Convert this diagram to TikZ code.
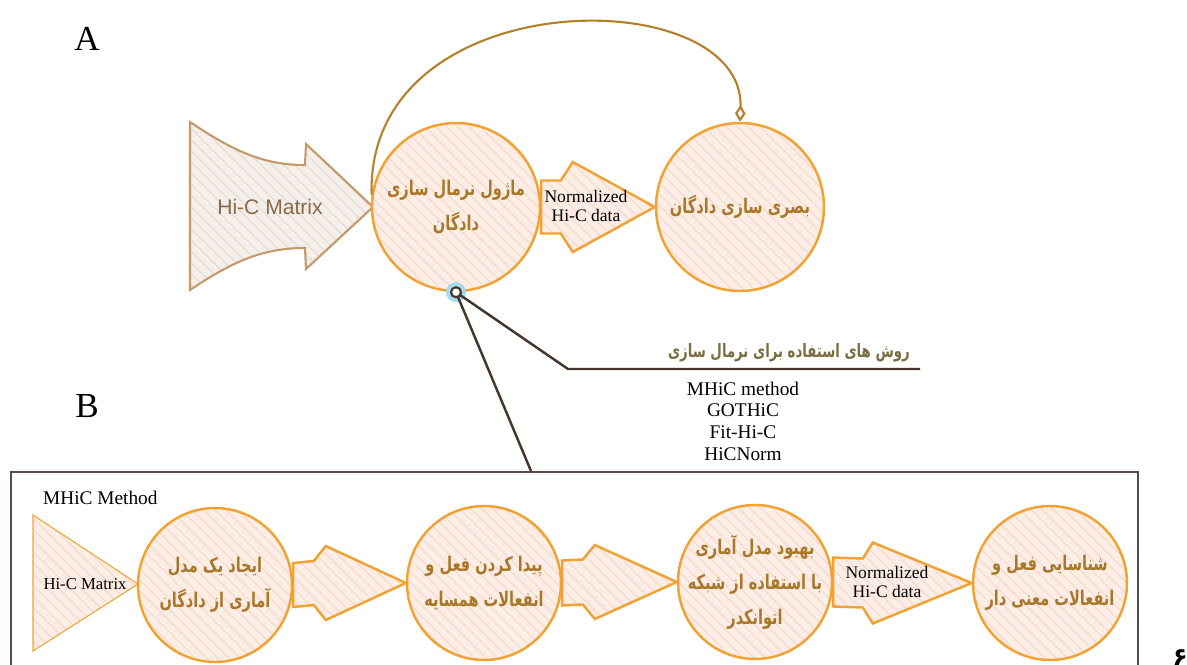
\documentclass[tikz,border=0pt]{standalone}
\usepackage{fontspec}
\setmainfont{Liberation Serif}
\setsansfont{Liberation Sans}
\newfontfamily\fafont[Script=Arabic, FakeStretch=0.72]{DejaVu Sans}
\newfontfamily\fadigit[Script=Arabic]{DejaVu Sans}
\TeXXeTstate=1
\usetikzlibrary{arrows.meta, positioning, calc, patterns.meta}

\definecolor{ringorange}{HTML}{F2A232}
\definecolor{peach}{HTML}{FCEEE6}
\definecolor{peachline}{HTML}{F6D6C2}
\definecolor{circtext}{HTML}{A9772A}
\definecolor{tanline}{HTML}{C49A6C}
\definecolor{tanfill}{HTML}{F4EFEA}
\definecolor{tanstripe}{HTML}{E4D8CB}
\definecolor{tantext}{HTML}{8A6A4C}
\definecolor{curvecol}{HTML}{B5802B}
\definecolor{darkbrown}{HTML}{46362A}
\definecolor{olivetext}{HTML}{7A6D3F}
\definecolor{halo}{HTML}{A6DAF0}
\definecolor{boxline}{HTML}{5B4B42}

% one right-to-left line
\newcommand{\faline}[1]{\beginR #1\endR}
% block arrow from a point to a tip: half shaft, half head, head length, notch
\newcommand{\blockarrow}[6]{%
  \draw[flowarrow] ($(#1)+(0,-#3)$) -- ($(#2)+(-#5-#6,-#3)$) -- ($(#2)+(-#5,-#4)$) -- (#2)
    -- ($(#2)+(-#5,#4)$) -- ($(#2)+(-#5-#6,#3)$) -- ($(#1)+(0,#3)$) -- cycle;}

\begin{document}
\begin{tikzpicture}[x=0.02cm, y=-0.02cm,
    hatch/.style={preaction={fill=peach}, pattern={Lines[angle=-45, distance=4.5pt, line width=0.5pt]},
                  pattern color=peachline},
    bigstep/.style={circle, draw=ringorange, line width=1.4pt, hatch, minimum size=3.36cm,
                    inner sep=0pt, align=center, text=circtext,
                    font=\fafont\bfseries\fontsize{11.5}{20}\selectfont},
    smallstep/.style={bigstep, minimum size=3.08cm},
    flowarrow/.style={draw=ringorange, line width=1.4pt, line join=miter, hatch},
    arrowtext/.style={align=center, font=\fontsize{10}{11.3}\selectfont},
    panel/.style={font=\fontsize{20}{20}\selectfont},
    brownline/.style={draw=darkbrown, line width=1.4pt}
]
    \useasboundingbox (0,0) rectangle (1187,664);

    % Panel A
    \node[panel, anchor=base] (labA) at (87,50) {A};

    \draw[draw=tanline, line width=1.2pt, line join=miter, preaction={fill=tanfill},
          pattern={Lines[angle=-45, distance=4.5pt, line width=0.5pt]}, pattern color=tanstripe]
        (190,122) .. controls (232,150) and (262,165) .. (305,165) -- (306,144) -- (373,207)
        -- (306,269) -- (305,248) .. controls (262,248) and (232,262) .. (190,290) -- cycle;
    \node[font=\sffamily\fontsize{12}{12}\selectfont, text=tantext] (hicA) at (270,207) {Hi-C Matrix};

    \node[bigstep] (norm) at (456,207) {\faline{ماژول نرمال سازی}\\\faline{دادگان}};
    \node[bigstep] (visual) at (740,207) {\faline{بصری سازی دادگان}};

    \blockarrow{norm.east}{visual.west}{26.5}{45}{82}{12}
    \node[arrowtext] (normdata) at (586,206) {Normalized\\Hi-C data};

    \draw[curvecol, line width=1.2pt, -{Diamond[open, length=9.5pt, width=6pt]}]
        (norm.172) .. controls (365,-20) and (745,-20) .. (visual.north);

    % Methods callout
    \node[circle, fill=halo, minimum size=0.4cm, inner sep=0pt] (pinhalo) at (norm.south) {};
    \coordinate (elbow) at (568,369);
    \coordinate (lineend) at (920,369);
    \coordinate (boxtop) at (531,471);
    \draw[brownline] (norm.south) -- (elbow) -- (lineend);
    \draw[brownline] (norm.south) -- (boxtop);
    \node[circle, draw=darkbrown, line width=1.2pt, fill=white, minimum size=0.2cm, inner sep=0pt]
        (pin) at (norm.south) {};

    \node[anchor=base east, text=olivetext, font=\fafont\bfseries\fontsize{10.5}{12}\selectfont]
        (methodstitle) at (916,357) {\faline{روش های استفاده برای نرمال سازی}};
    \node[align=center, font=\fontsize{11}{12.3}\selectfont] (methods) at (743,421)
        {MHiC method\\GOTHiC\\Fit-Hi-C\\HiCNorm};

    % Panel B
    \node[panel, anchor=base] (labB) at (87,417) {B};
    \node[draw=boxline, line width=1.2pt, anchor=north west, minimum width=22.54cm,
          minimum height=4.6cm] (boxB) at (10,471) {};
    \node[anchor=base west, font=\fontsize{11}{12}\selectfont] (mhic) at (37,504) {MHiC Method};

    \draw[draw=ringorange, line width=0.6pt, hatch] (33,515) -- (138,584) -- (33,651) -- cycle;
    \node[font=\fontsize{9.5}{10}\selectfont] (hicB) at (85,584) {Hi-C Matrix};

    \node[smallstep] (model) at (215,585) {\faline{ایجاد یک مدل}\\\faline{آماری از دادگان}};
    \node[smallstep] (neigh) at (484,583) {\faline{پیدا کردن فعل و}\\\faline{انفعالات همسایه}};
    \node[smallstep, inner sep=-8pt] (improve) at (755,582)
        {\faline{بهبود مدل آماری}\\\faline{با استفاده از شبکه}\\\faline{اتوانکدر}};
    \node[smallstep] (detect) at (1050,583) {\faline{شناسایی فعل و}\\\faline{انفعالات معنی دار}};

    \blockarrow{model.east}{neigh.west}{22}{37}{80}{12}
    \blockarrow{neigh.east}{improve.west}{22.5}{37}{82}{12}
    \blockarrow{improve.east}{detect.west}{24.5}{40.5}{99}{10}
    \node[arrowtext] (normdataB) at (887,582) {Normalized\\Hi-C data};

    \node[font=\fadigit\bfseries\fontsize{14}{14}\selectfont] (pagenum) at (1180,658) {۶};
\end{tikzpicture}
\end{document}
